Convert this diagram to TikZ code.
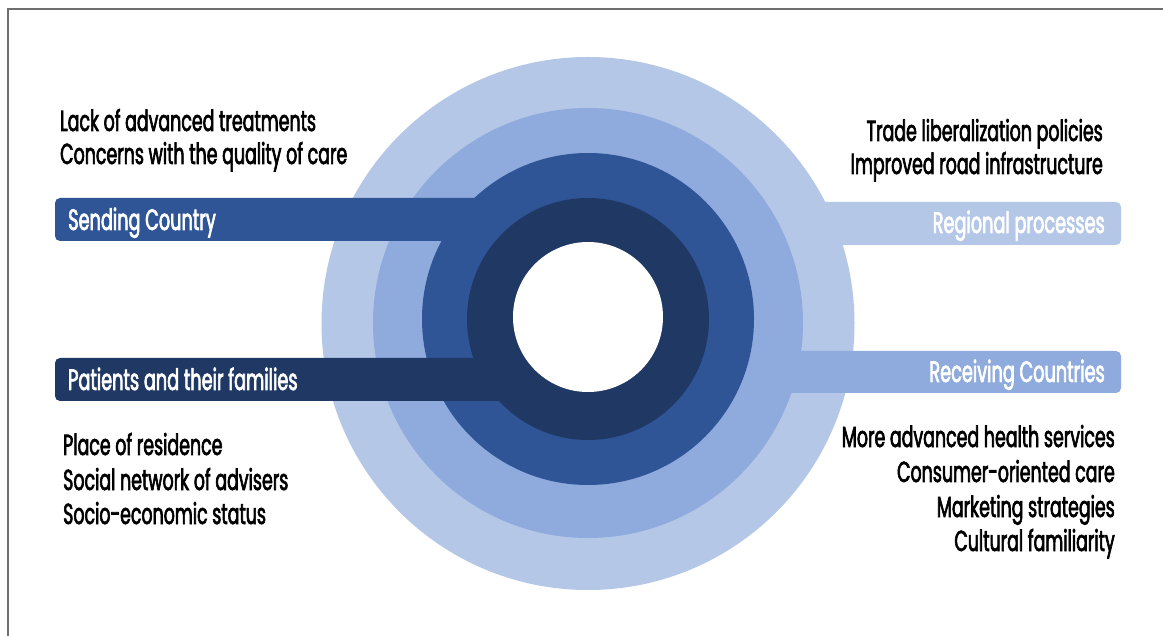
\documentclass[tikz,border=0pt]{standalone}
\usepackage{fontspec}
\setmainfont{Poppins}[FakeStretch=0.6, FakeBold=2.2]
\definecolor{ringA}{HTML}{B4C7E7}
\definecolor{ringB}{HTML}{8FAADC}
\definecolor{ringC}{HTML}{2F5597}
\definecolor{ringD}{HTML}{203864}
\definecolor{framegray}{HTML}{6E6E6E}
\tikzset{
  txt/.style={font=\fontsize{29}{34}\selectfont, text=black, inner sep=0pt},
  bartxt/.style={font=\fontsize{29.5}{34}\selectfont, text=white, inner sep=0pt},
  barshape/.style={rounded corners=5pt}
}
\begin{document}
\begin{tikzpicture}[x=1pt,y=-1pt]
\useasboundingbox (0,0) rectangle (1163,636);
\fill[white] (0,0) rectangle (1163,636);
% frame
\draw[framegray, line width=2.2pt] (8,636) -- (8,9) -- (1163,9);
% rings and bars
\fill[ringA] (588,323.5) circle (266.5);
\fill[ringA, barshape] (588,202) rectangle (1121,245);
\fill[ringB] (588,323) circle (215);
\fill[ringB, barshape] (588,351) rectangle (1121,393);
\fill[ringC, barshape] (55,198) rectangle (588,241);
\fill[ringC] (588,319) circle (166);
\fill[ringD, barshape] (55,358) rectangle (588,401);
\fill[ringD] (588,319) circle (121);
\fill[white] (588,317) circle (75);
% labels on bars
\node[bartxt, anchor=base west] (send) at (68,230) {Sending Country};
\node[bartxt, anchor=base west] (pat) at (68,390) {Patients and their families};
\node[bartxt, anchor=base east] (reg) at (1105,233) {Regional processes};
\node[bartxt, anchor=base east] (rec) at (1105,382) {Receiving Countries};
% left top
\node[txt, anchor=base west] (l1) at (60,131) {Lack of advanced treatments};
\node[txt, anchor=base west] (l2) at (60,164) {Concerns with the quality of care};
% left bottom
\node[txt, anchor=base west] (b1) at (63,455) {Place of residence};
\node[txt, anchor=base west] (b2) at (63,490) {Social network of advisers};
\node[txt, anchor=base west] (b3) at (63,524) {Socio-economic status};
% right top
\node[txt, anchor=base east] (r1) at (1103,141) {Trade liberalization policies};
\node[txt, anchor=base east] (r2) at (1103,174) {Improved road infrastructure};
% right bottom
\node[txt, anchor=base east] (s1) at (1115,447) {More advanced health services};
\node[txt, anchor=base east] (s2) at (1115,482) {Consumer-oriented care};
\node[txt, anchor=base east] (s3) at (1115,517) {Marketing strategies};
\node[txt, anchor=base east] (s4) at (1115,551) {Cultural familiarity};
\end{tikzpicture}
\end{document}
